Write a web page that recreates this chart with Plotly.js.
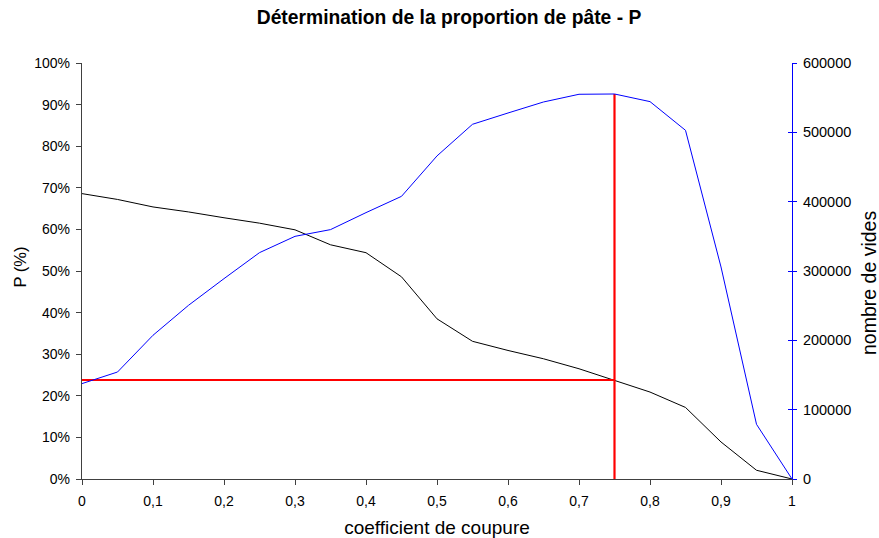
<!DOCTYPE html>
<html><head><meta charset="utf-8">
<script src="https://cdn.plot.ly/plotly-3.0.1.min.js"></script>
<style>html,body{margin:0;padding:0;background:#fff}#chart{width:879px;height:538px}</style>
</head><body><div id="chart"></div>
<script>
const coef = [0,0.05,0.1,0.15,0.2,0.25,0.3,0.35,0.4,0.45,0.5,0.55,0.6,0.65,0.7,0.75,0.8,0.85,0.9,0.95,1];
const pPercent = [0.686,0.672,0.654,0.642,0.628,0.615,0.599,0.563,0.544,0.486,0.385,0.331,0.309,0.289,0.265,0.237,0.209,0.172,0.089,0.021,0];
const nbVides = [137600,154300,207300,250500,289000,326500,350000,359700,384200,407700,466000,511600,527900,543800,554900,555300,544300,502900,305800,78900,0];
const redHX = [0,0.75], redHY = [0.238,0.238];
const redVX = [0.75,0.75], redVY = [0,0.9255];
const titleText = 'Détermination de la proportion de pâte - P';
const xTitle = 'coefficient de coupure';
const yTitle = 'P (%)';
const y2Title = 'nombre de vides';

const font = 'Liberation Sans, Arial, sans-serif';
const traces = [
  {x: coef, y: pPercent, type:'scatter', mode:'lines', line:{color:'#000', width:1}, yaxis:'y'},
  {x: coef, y: nbVides, type:'scatter', mode:'lines', line:{color:'#0000ff', width:1}, yaxis:'y2'},
  {x: redHX, y: redHY, type:'scatter', mode:'lines', line:{color:'#ff0000', width:2.2}, yaxis:'y'},
  {x: redVX, y: redVY, type:'scatter', mode:'lines', line:{color:'#ff0000', width:2.2}, yaxis:'y'},
  {x:[coef[0]], y:[nbVides[0]], yaxis:'y3', type:'scatter', mode:'lines', hoverinfo:'skip', line:{width:0}}
];
const layout = {
  width:879, height:538, showlegend:false,
  separators:', ',
  paper_bgcolor:'#fff', plot_bgcolor:'#fff',
  margin:{l:82, r:87, t:63, b:59},
  font:{family:font, size:14, color:'#000'},
  title:{text:'<b>'+titleText+'</b>', font:{family:font, size:19.3, color:'#000'}, x:449/879, xanchor:'center', xref:'container', y:1-17.5/538, yref:'container', yanchor:'middle'},
  xaxis:{range:[0,1], dtick:0.1, tick0:0, showgrid:false, zeroline:false, showline:true, linecolor:'#404040', linewidth:1.2,
    ticks:'outside', ticklen:5, tickcolor:'#404040', tickfont:{size:14}, ticklabelstandoff:4,
    title:{text:xTitle, font:{size:19}, standoff:13}},
  yaxis:{range:[0,1], dtick:0.1, tickformat:'.0%', showgrid:false, zeroline:false, showline:true, linecolor:'#404040', linewidth:1.2,
    ticks:'outside', ticklen:5, tickcolor:'#404040', tickfont:{size:14}, ticklabelstandoff:3},
  yaxis2:{range:[0,600000], dtick:100000, tickformat:'d', overlaying:'y', side:'right', showgrid:false, zeroline:false,
    showline:true, linecolor:'#0000ff', linewidth:1, ticks:'outside', ticklen:4, tickcolor:'#0000ff', tickfont:{size:14.5}, ticklabelstandoff:3},
  yaxis3:{range:[0,600000], dtick:100000, overlaying:'y', side:'right', showgrid:false, zeroline:false, showline:false,
    showticklabels:false, ticks:'inside', ticklen:4, tickcolor:'#0000ff'},
  annotations:[
    {text:yTitle, textangle:-90, xref:'paper', yref:'paper', x:0, y:0.5, xanchor:'center', yanchor:'middle',
     xshift:19.5-82, yshift:4, showarrow:false, font:{family:font, size:16.5, color:'#000'}},
    {text:y2Title, textangle:-90, xref:'paper', yref:'paper', x:1, y:0.5, xanchor:'center', yanchor:'middle',
     xshift:869-792, yshift:-12, showarrow:false, font:{family:font, size:19.5, color:'#000'}}
  ]
};
Plotly.newPlot('chart', traces, layout, {displayModeBar:false, staticPlot:true});
</script></body></html>
